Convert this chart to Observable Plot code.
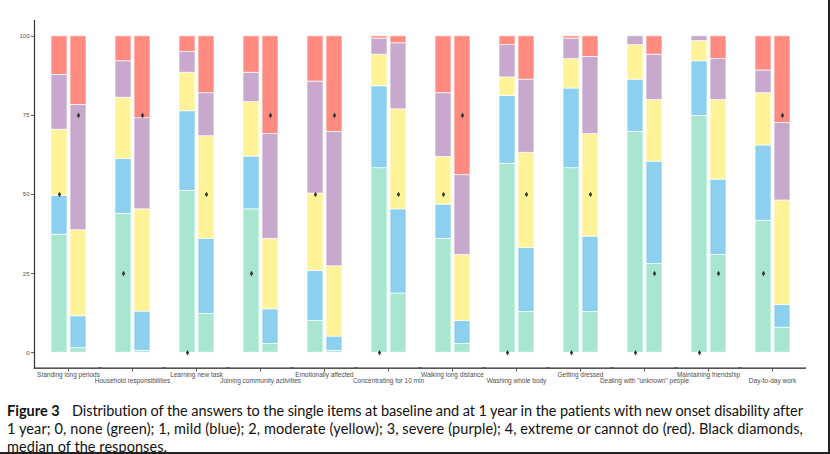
<!DOCTYPE html>
<html>
<head>
<meta charset="utf-8">
<script src="https://cdn.jsdelivr.net/npm/d3@7"></script>
<script src="https://cdn.jsdelivr.net/npm/@observablehq/plot@0.6"></script>
<style>
  body { margin: 0; background: #fff; }
  #page { position: relative; width: 830px; height: 454px; overflow: hidden; background: #fff; }
  #chart { position: absolute; left: 0; top: 0; }
  .cap { position: absolute; left: 7px; white-space: nowrap; font-family: Lato, "Open Sans", sans-serif; font-size: 14.5px; line-height: 18px; color: #111; }
  .cap b { font-weight: 700; display: inline-block; width: 65px; }
  .bR { position: absolute; left: 828px; top: 0; width: 1.5px; height: 454px; background: #222; }
  .bB { position: absolute; left: 0; top: 452px; width: 830px; height: 1.5px; background: #222; }
</style>
</head>
<body>
<div id="page">
  <div id="chart"></div>
  <div id="caption"></div>
  <div class="bR"></div>
  <div class="bB"></div>
</div>
<script>
// ---- data ----
const items = [
  "Standing long periods", "Household responsibilities", "Learning new task",
  "Joining community activities", "Emotionally affected", "Concentrating for 10 min",
  "Walking long distance", "Washing whole body", "Getting dressed",
  "Dealing with \"unknown\" people", "Maintaining friendship", "Day-to-day work"
];
const times = ["Baseline", "1 year"];
const levels = ["0, none", "1, mild", "2, moderate", "3, severe", "4, extreme or cannot do"];
const levelColors = ["#a8e6cf", "#8dcfef", "#fff39a", "#c8a8cc", "#ff8a80"];

// percentage of answers per level [none, mild, moderate, severe, extreme]
const baseline = [
  [37.3, 12.3, 20.9, 17.3, 12.2],
  [43.9, 17.3, 19.4, 11.5, 7.9],
  [51.1, 25.2, 12.2, 6.5, 5.0],
  [45.3, 16.7, 17.2, 9.3, 11.5],
  [10.0, 15.9, 24.4, 35.4, 14.3],
  [58.3, 25.9, 10.0, 5.1, 0.7],
  [35.9, 10.9, 15.1, 20.1, 18.0],
  [59.7, 21.5, 5.8, 10.2, 2.8],
  [58.3, 25.2, 9.3, 6.5, 0.7],
  [69.8, 16.5, 10.9, 2.8, 0.0],
  [74.8, 17.3, 6.4, 1.5, 0.0],
  [41.7, 23.8, 16.5, 7.2, 10.8]
];
const oneYear = [
  [1.4, 10.1, 27.2, 39.6, 21.7],
  [0.6, 12.4, 32.3, 28.8, 25.9],
  [12.2, 23.8, 32.4, 13.6, 18.0],
  [2.8, 10.9, 22.3, 33.1, 30.9],
  [0.6, 4.5, 22.2, 42.5, 30.2],
  [18.7, 26.6, 31.6, 20.9, 2.2],
  [2.8, 7.2, 20.9, 25.2, 43.9],
  [12.9, 20.2, 30.1, 23.1, 13.7],
  [12.9, 23.8, 32.4, 24.4, 6.5],
  [28.0, 32.4, 19.5, 14.3, 5.8],
  [30.9, 23.8, 25.2, 12.9, 7.2],
  [7.9, 7.2, 33.0, 24.5, 27.4]
];
// median answer (0-4)
const medianBaseline = [2, 1, 0, 1, 2, 0, 2, 0, 0, 0, 0, 1];
const medianOneYear  = [3, 3, 2, 3, 3, 2, 3, 2, 2, 1, 1, 3];
const yTicks = [0, 25, 50, 75, 100];

const captionLines = [
  ["Figure 3", "Distribution of the answers to the single items at baseline and at 1 year in the patients with new onset disability after"],
  [null, "1 year; 0, none (green); 1, mild (blue); 2, moderate (yellow); 3, severe (purple); 4, extreme or cannot do (red). Black diamonds,"],
  [null, "median of the responses."]
];

// ---- tables ----
const rows = [];
const series = [baseline, oneYear];
items.forEach((item, i) => {
  times.forEach((time, t) => {
    levels.forEach((level, k) => {
      rows.push({item, time, level, value: series[t][i][k]});
    });
  });
});
const medians = [];
items.forEach((item, i) => {
  medians.push({item, time: times[0], median: medianBaseline[i]});
  medians.push({item, time: times[1], median: medianOneYear[i]});
});
const labelRows = items.map((item, i) => ({item, row: i % 2}));

const gray = "#4d4d4d";
const tickSymbol = {draw(ctx) { ctx.moveTo(0, 0); ctx.lineTo(0, 2.5); }};

const chart = Plot.plot({
  width: 830,
  height: 392,
  marginLeft: 35,
  marginRight: 25,
  marginTop: 20,
  marginBottom: 24,
  style: {fontFamily: "'Liberation Sans', Arial, sans-serif", background: "transparent", overflow: "visible"},
  fx: {domain: items, paddingInner: 0, paddingOuter: 0, axis: null, label: null},
  x: {domain: times, paddingInner: 0.18, paddingOuter: 0.735, axis: null},
  y: {domain: [-5, 105], axis: null},
  color: {domain: levels, range: levelColors},
  marks: [
    Plot.barY(rows, {fx: "item", x: "time", y: "value", fill: "level", stroke: "white", strokeWidth: 0.7, order: null}),
    Plot.dot(medians, {fx: "item", x: "time", y: d => d.median * 25, symbol: "diamond", r: 1.7, fill: "#333", stroke: "none"}),
    Plot.rect([0], {y1: () => -5.3, y2: () => -4.8, fill: "#555", insetLeft: -2, insetRight: -2}),
    Plot.ruleY([-5], {stroke: "#555", strokeWidth: 1.2}),
    Plot.frame({anchor: "left", stroke: "#333", strokeWidth: 1.2, dx: -2, facetAnchor: "left"}),
    Plot.axisY(yTicks, {anchor: "left", tickSize: 3, tickPadding: 2, fontSize: 6, color: gray, stroke: "#555", label: null, dx: -2}),
    Plot.dot(labelRows, {fx: "item", frameAnchor: "bottom", symbol: tickSymbol, r: 1, stroke: "#555", strokeWidth: 1, fill: "none", dy: 0.5}),
    Plot.text(labelRows.filter(d => d.row === 0), {fx: "item", text: "item", frameAnchor: "bottom", dy: 8, fontSize: 6.5, fill: gray}),
    Plot.text(labelRows.filter(d => d.row === 1), {fx: "item", text: "item", frameAnchor: "bottom", dy: 14.8, fontSize: 6.5, fill: gray})
  ]
});
document.getElementById("chart").appendChild(chart);

// ---- caption ----
const cap = document.getElementById("caption");
const tops = [401.5, 419.5, 437.5];
const rightEdges = [803, 803, 167];
const spans = [];
captionLines.forEach(([bold, text], i) => {
  const div = document.createElement("div");
  div.className = "cap";
  div.style.top = tops[i] + "px";
  if (bold) {
    const b = document.createElement("b");
    b.textContent = bold;
    div.appendChild(b);
  }
  const s = document.createElement("span");
  s.textContent = text;
  div.appendChild(s);
  cap.appendChild(div);
  spans.push([s, i]);
});
function fit() {
  spans.forEach(([s, i]) => {
    s.style.letterSpacing = "0px";
    const r = s.getBoundingClientRect();
    const target = rightEdges[i] - r.left;
    const n = s.textContent.length;
    s.style.letterSpacing = ((target - r.width) / n) + "px";
  });
}
fit();
if (document.fonts && document.fonts.ready) document.fonts.ready.then(fit);
</script>
</body>
</html>
